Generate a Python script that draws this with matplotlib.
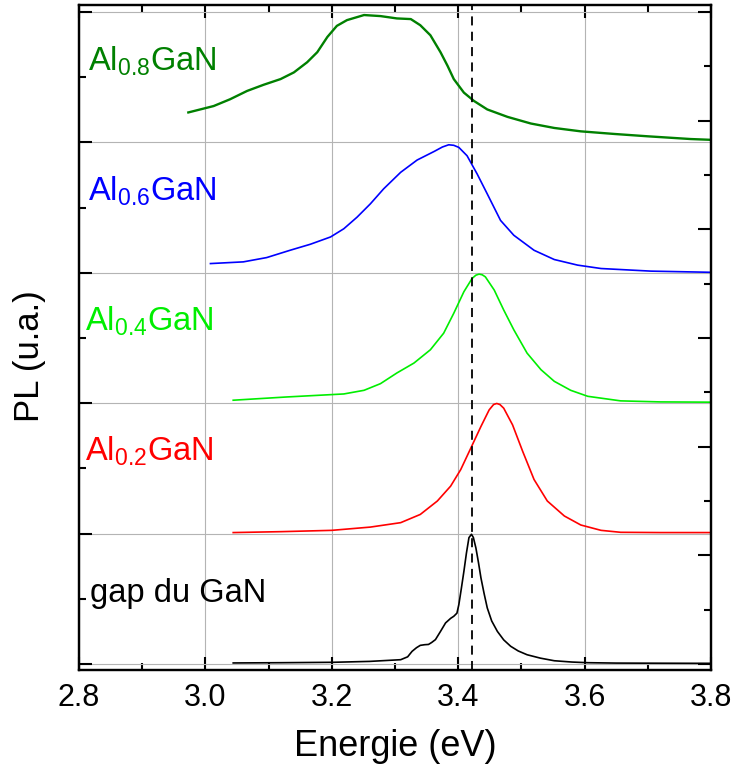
import matplotlib
matplotlib.use("Agg")
import matplotlib.pyplot as plt
from matplotlib.ticker import MultipleLocator

plt.rcParams['font.family'] = ['Liberation Sans', 'DejaVu Sans']
plt.rcParams['mathtext.fontset'] = 'custom'
plt.rcParams['mathtext.rm'] = 'Liberation Sans'

# energies (eV) and normalised PL intensity (0..1)
e_gan = [3.044, 3.12, 3.201, 3.26, 3.309, 3.320, 3.327, 3.334, 3.340, 3.347, 3.353, 3.358,
         3.364, 3.372, 3.380, 3.388, 3.393, 3.398, 3.401, 3.405, 3.409, 3.413, 3.417, 3.421,
         3.424, 3.428, 3.432, 3.436, 3.441, 3.446, 3.453, 3.462, 3.472, 3.483, 3.495, 3.509,
         3.530, 3.552, 3.58, 3.605, 3.65, 3.72, 3.8]
i_gan = [0.008, 0.01, 0.013, 0.02, 0.033, 0.055, 0.097, 0.125, 0.143, 0.148, 0.150, 0.165,
         0.187, 0.250, 0.315, 0.350, 0.366, 0.390, 0.455, 0.580, 0.710, 0.850, 0.969, 0.995,
         0.970, 0.890, 0.780, 0.660, 0.540, 0.430, 0.330, 0.250, 0.185, 0.136, 0.100, 0.071,
         0.045, 0.025, 0.015, 0.010, 0.007, 0.006, 0.005]

e_al02 = [3.044, 3.12, 3.200, 3.261, 3.309, 3.340, 3.367, 3.388, 3.404, 3.420, 3.436, 3.449,
          3.456, 3.461, 3.466, 3.472, 3.486, 3.502, 3.520, 3.541, 3.568, 3.594, 3.626, 3.657,
          3.72, 3.8]
i_al02 = [0.008, 0.015, 0.025, 0.050, 0.084, 0.147, 0.250, 0.364, 0.491, 0.656, 0.822, 0.949,
          0.990, 0.998, 0.990, 0.962, 0.834, 0.631, 0.415, 0.250, 0.135, 0.066, 0.025, 0.010,
          0.008, 0.008]

e_al04 = [3.044, 3.129, 3.219, 3.251, 3.277, 3.303, 3.330, 3.356, 3.377, 3.393, 3.409, 3.422,
          3.428, 3.433, 3.438, 3.443, 3.457, 3.472, 3.488, 3.509, 3.531, 3.552, 3.578, 3.605,
          3.657, 3.72, 3.8]
i_al04 = [0.023, 0.048, 0.071, 0.099, 0.150, 0.232, 0.308, 0.410, 0.537, 0.690, 0.855, 0.957,
          0.982, 0.990, 0.985, 0.969, 0.868, 0.715, 0.563, 0.384, 0.257, 0.168, 0.099, 0.053,
          0.018, 0.010, 0.008]

e_al06 = [3.008, 3.060, 3.097, 3.134, 3.166, 3.198, 3.219, 3.240, 3.261, 3.282, 3.309, 3.335,
          3.362, 3.375, 3.385, 3.393, 3.401, 3.414, 3.430, 3.446, 3.467, 3.488, 3.520, 3.552,
          3.589, 3.626, 3.705, 3.8]
i_al06 = [0.071, 0.084, 0.117, 0.173, 0.219, 0.275, 0.338, 0.427, 0.529, 0.644, 0.771, 0.865,
          0.931, 0.965, 0.982, 0.978, 0.962, 0.898, 0.758, 0.605, 0.402, 0.288, 0.173, 0.102,
          0.059, 0.033, 0.013, 0.004]

e_al08 = [2.973, 3.013, 3.039, 3.066, 3.092, 3.119, 3.140, 3.161, 3.177, 3.193, 3.208, 3.224,
          3.251, 3.277, 3.303, 3.325, 3.340, 3.356, 3.372, 3.383, 3.393, 3.409, 3.425, 3.446,
          3.478, 3.515, 3.552, 3.594, 3.647, 3.700, 3.768, 3.8]
i_al08 = [0.230, 0.279, 0.331, 0.395, 0.442, 0.486, 0.537, 0.615, 0.692, 0.809, 0.894, 0.938,
          0.977, 0.969, 0.951, 0.946, 0.899, 0.822, 0.692, 0.589, 0.486, 0.382, 0.318, 0.253,
          0.196, 0.145, 0.111, 0.085, 0.065, 0.047, 0.026, 0.020]

series = [
    (e_gan, i_gan, 'black', 'gap du GaN'),
    (e_al02, i_al02, '#ff0000', r'Al$_\mathregular{0.2}$GaN'),
    (e_al04, i_al04, '#00ee00', r'Al$_\mathregular{0.4}$GaN'),
    (e_al06, i_al06, '#0000ff', r'Al$_\mathregular{0.6}$GaN'),
    (e_al08, i_al08, '#008000', r'Al$_\mathregular{0.8}$GaN'),
]
label_pos = [(2.817, 0.475), (2.81, 1.56), (2.81, 2.56), (2.814, 3.56), (2.814, 4.55)]
gap_energy = 3.422

fig = plt.figure(figsize=(7.35, 7.78), dpi=100)
ax = fig.add_axes([79 / 735, 1 - 670 / 778, 632 / 735, 665 / 778])

for k, (e, i, c, name) in enumerate(series):
    ax.plot(e, [v + k for v in i], color=c, lw=1.7 if k == 4 else 1.2)
    ax.text(label_pos[k][0], label_pos[k][1], name, color=c, fontsize=23.5,
            va='baseline', ha='left')

ax.axvline(gap_energy, color='black', lw=1.3, ls=(0, (5, 3.5)), zorder=5)

ax.set_xlim(2.8, 3.8)
ax.set_ylim(-0.046, 5.054)
ax.xaxis.set_major_locator(MultipleLocator(0.2))
ax.xaxis.set_minor_locator(MultipleLocator(0.1))
ax.yaxis.set_major_locator(MultipleLocator(1))
ax.yaxis.set_minor_locator(MultipleLocator(0.5))
ax.set_xticks([2.8, 3.0, 3.2, 3.4, 3.6, 3.8])
ax.set_xticklabels(['2.8', '3.0', '3.2', '3.4', '3.6', '3.8'])
ax.grid(True, which='major', color='#b4b4b4', lw=0.8)
ax.tick_params(which='both', direction='in', width=1.5, top=True, right=False,
               labelleft=False, labelsize=22, pad=9)
ax.tick_params(which='major', length=9.5)
ax.tick_params(which='minor', length=5)
for s in ax.spines.values():
    s.set_linewidth(1.6)

ax.set_xlabel('Energie (eV)', fontsize=26, labelpad=12)
ax.set_ylabel('PL (u.a.)', fontsize=25)
ax.yaxis.set_label_coords(-0.052, 0.472)

# right-hand ticks (different spacing in the original)
ax2 = ax.twinx()
ax2.set_ylim(-0.0552, 6.0644)
ax2.yaxis.set_major_locator(MultipleLocator(1))
ax2.yaxis.set_minor_locator(MultipleLocator(0.5))
ax2.tick_params(which='both', direction='in', width=1.5, labelright=False)
ax2.tick_params(which='major', length=9.5)
ax2.tick_params(which='minor', length=5)
for s in ax2.spines.values():
    s.set_linewidth(1.6)

fig.savefig('out.png', dpi=100)
